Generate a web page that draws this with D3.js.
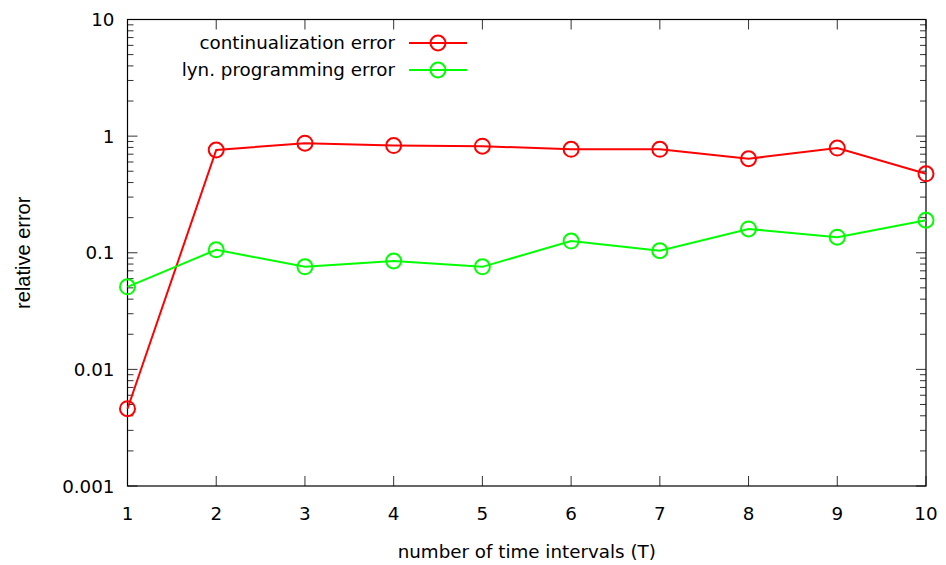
<!DOCTYPE html>
<html>
<head>
<meta charset="utf-8">
<script src="https://cdn.jsdelivr.net/npm/d3@7"></script>
<style>
  body { margin: 0; background: #fff; }
  svg { display: block; font-family: "DejaVu Sans", sans-serif; }
</style>
</head>
<body>
<div id="chart"></div>
<script>
// data
const intervals = [1, 2, 3, 4, 5, 6, 7, 8, 9, 10];
const contError = [0.0046, 0.76, 0.87, 0.83, 0.82, 0.77, 0.77, 0.64, 0.79, 0.475];
const dynError = [0.051, 0.106, 0.0757, 0.085, 0.0757, 0.126, 0.104, 0.16, 0.136, 0.19];
const yTickValues = [0.001, 0.01, 0.1, 1, 10];
const yTickLabels = ['0.001', '0.01', '0.1', '1', '10'];

const series = [
    { name: 'continualization error', values: contError, color: '#ff0000' },
    { name: 'lyn. programming error', values: dynError, color: '#00ff00' }
];

const width = 946, height = 565;
const margin = { top: 19.5, right: 20, bottom: 79, left: 127.5 };
const fontSize = 18.3;

const svg = d3.select('#chart').append('svg')
    .attr('width', width)
    .attr('height', height);

const x = d3.scaleLinear()
    .domain([1, 10])
    .range([margin.left, width - margin.right]);

const y = d3.scaleLog()
    .domain([0.001, 10])
    .range([height - margin.bottom, margin.top]);

// minor ticks 2..9 in each decade
const minorTicks = [];
for (let d = 0.001; d < 10; d *= 10) {
    for (let k = 2; k <= 9; k++) minorTicks.push(+(d * k).toPrecision(3));
}

const x0 = x.range()[0], x1 = x.range()[1];
const y0 = y.range()[0], y1 = y.range()[1];

const ticks = svg.append('g').attr('stroke', '#333').attr('stroke-width', 1);

// y ticks on left and right (inward)
yTickValues.forEach(v => {
    ticks.append('line').attr('x1', x0).attr('x2', x0 + 10).attr('y1', y(v)).attr('y2', y(v));
    ticks.append('line').attr('x1', x1).attr('x2', x1 - 10).attr('y1', y(v)).attr('y2', y(v));
});
minorTicks.forEach(v => {
    ticks.append('line').attr('x1', x0).attr('x2', x0 + 6).attr('y1', y(v)).attr('y2', y(v));
    ticks.append('line').attr('x1', x1).attr('x2', x1 - 6).attr('y1', y(v)).attr('y2', y(v));
});
// x ticks on bottom and top
intervals.forEach(v => {
    ticks.append('line').attr('x1', x(v)).attr('x2', x(v)).attr('y1', y0).attr('y2', y0 - 10);
    ticks.append('line').attr('x1', x(v)).attr('x2', x(v)).attr('y1', y1).attr('y2', y1 + 10);
});

// frame
svg.append('rect')
    .attr('x', x0).attr('y', y1)
    .attr('width', x1 - x0).attr('height', y0 - y1)
    .attr('fill', 'none')
    .attr('stroke', '#000')
    .attr('stroke-width', 1.2);

// tick labels
svg.append('g').selectAll('text')
    .data(yTickValues)
    .enter().append('text')
    .attr('x', x0 - 13)
    .attr('y', d => y(d))
    .attr('dy', '0.36em')
    .attr('text-anchor', 'end')
    .attr('font-size', fontSize)
    .text((d, i) => yTickLabels[i]);

svg.append('g').selectAll('text')
    .data(intervals)
    .enter().append('text')
    .attr('x', d => x(d))
    .attr('y', y0 + 34)
    .attr('text-anchor', 'middle')
    .attr('font-size', fontSize)
    .text(d => d);

// axis titles
svg.append('text')
    .attr('x', (x0 + x1) / 2)
    .attr('y', 558)
    .attr('text-anchor', 'middle')
    .attr('font-size', fontSize)
    .text('number of time intervals (T)');

svg.append('text')
    .attr('transform', `translate(30,${(y0 + y1) / 2}) rotate(-90)`)
    .attr('text-anchor', 'middle')
    .attr('font-family', '"Liberation Sans", Arial, sans-serif')
    .attr('font-size', 20)
    .text('relative error');

// lines and markers
const line = d3.line()
    .x((d, i) => x(intervals[i]))
    .y(d => y(d));

series.forEach(s => {
    svg.append('path')
        .datum(s.values)
        .attr('d', line)
        .attr('fill', 'none')
        .attr('stroke', s.color)
        .attr('stroke-width', 2);

    svg.append('g').selectAll('circle')
        .data(s.values)
        .enter().append('circle')
        .attr('cx', (d, i) => x(intervals[i]))
        .attr('cy', d => y(d))
        .attr('r', 7.5)
        .attr('fill', 'none')
        .attr('stroke', s.color)
        .attr('stroke-width', 2);
});

// legend
const legend = svg.append('g');
series.forEach((s, i) => {
    const ly = 43 + i * 27;
    legend.append('text')
        .attr('x', 395)
        .attr('y', ly)
        .attr('dy', '0.35em')
        .attr('text-anchor', 'end')
        .attr('font-size', fontSize)
        .text(s.name);
    legend.append('line')
        .attr('x1', 409).attr('x2', 467)
        .attr('y1', ly).attr('y2', ly)
        .attr('stroke', s.color)
        .attr('stroke-width', 2);
    legend.append('circle')
        .attr('cx', 438).attr('cy', ly)
        .attr('r', 7.5)
        .attr('fill', 'none')
        .attr('stroke', s.color)
        .attr('stroke-width', 2);
});
</script>
</body>
</html>
